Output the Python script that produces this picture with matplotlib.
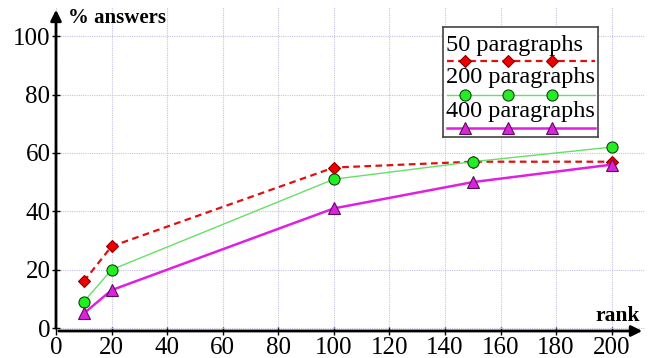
import matplotlib
matplotlib.use("Agg")
import matplotlib.pyplot as plt
from matplotlib.patches import Rectangle

plt.rcParams['font.family'] = ['Liberation Serif', 'DejaVu Serif']

ranks = [10, 20, 100, 150, 200]
p50 = [16, 28, 55, 57, 57]
p200 = [9, 20, 51, 57, 62]
p400 = [5, 13, 41, 50, 56]
labels = ["50 paragraphs", "200 paragraphs", "400 paragraphs"]
xticks = [0, 20, 40, 60, 80, 100, 120, 140, 160, 180, 200]
yticks = [0, 20, 40, 60, 80, 100]

W, H = 650, 358
fig = plt.figure(figsize=(W / 100, H / 100), dpi=100)
ax = fig.add_axes([56 / W, 1 - 331 / H, (645 - 56) / W, (331 - 7) / H])
ax.set_xlim(0, 212)
ax.set_ylim(-1, 110)

styles = [
    dict(color='#e01010', lw=1.6, ls=(0, (3, 2)), marker='D', ms=6.5, mfc='#ee0000', mec='#880000', mew=0.8),
    dict(color='#66e066', lw=1.0, ls='-', marker='o', ms=8, mfc='#22ee22', mec='#114411', mew=0.8),
    dict(color='#e020e0', lw=1.8, ls='-', marker='^', ms=8, mfc='#dd22dd', mec='#551155', mew=0.8),
]
for ys, st in zip([p50, p200, p400], styles):
    ax.plot(ranks, ys, clip_on=False, zorder=3, **st)

for s in ax.spines.values():
    s.set_visible(False)
ax.set_xticks(xticks)
ax.set_yticks(yticks)
ax.tick_params(direction='inout', length=6, width=1, labelsize=18, pad=1)
ax.grid(True, color='#c4c4e4', ls=(0, (1, 1)), lw=0.8)
ax.set_axisbelow(True)

ax.annotate('', xy=(212, -1), xytext=(0, -1), xycoords='data',
            arrowprops=dict(arrowstyle='-|>', color='black', lw=2, mutation_scale=16), annotation_clip=False)
ax.annotate('', xy=(0, 110), xytext=(0, -1), xycoords='data',
            arrowprops=dict(arrowstyle='-|>', color='black', lw=2, mutation_scale=16), annotation_clip=False)

fig.text(68 / W, 1 - 18 / H, '% answers', fontsize=15, fontweight='bold', va='center', ha='left')
fig.text(640 / W, 1 - 316 / H, 'rank', fontsize=15.5, fontweight='bold', va='center', ha='right')

# legend drawn in an overlay axes (text above line, as in the reference)
lx0, lx1, ly0, ly1 = 443, 598, 27, 137
lax = fig.add_axes([lx0 / W, 1 - ly1 / H, (lx1 - lx0) / W, (ly1 - ly0) / H], zorder=10)
lax.set_xlim(lx0, lx1)
lax.set_ylim(ly1, ly0)
lax.set_xticks([])
lax.set_yticks([])
for s in lax.spines.values():
    s.set_color('#444444')
    s.set_linewidth(1.2)
text_y = [45, 78, 111]
line_y = [61, 95, 128]
for lab, ty, ly, st in zip(labels, text_y, line_y, styles):
    lax.text(446, ty, lab, fontsize=17.5, va='center', ha='left')
    lax.plot([447, 465, 508, 552, 595], [ly] * 5, markevery=[1, 2, 3], clip_on=False, **st)

fig.savefig('out.png', dpi=100)
